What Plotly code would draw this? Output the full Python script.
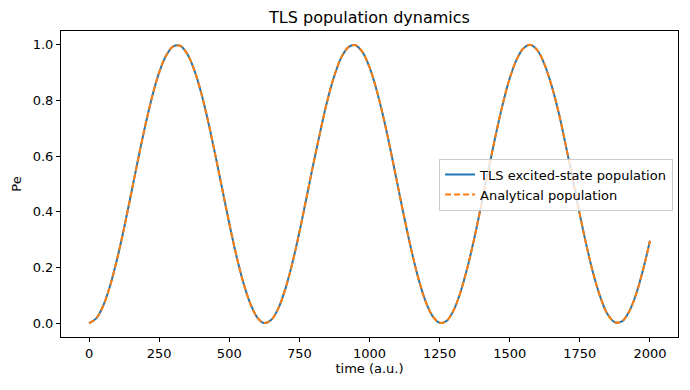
import plotly.graph_objects as go

time_au = [25 * k for k in range(81)]
pe_numeric = [
    0.000, 0.016, 0.061, 0.134, 0.230, 0.342, 0.465, 0.589, 0.708, 0.814,
    0.901, 0.962, 0.995, 0.997, 0.968, 0.910, 0.827, 0.723, 0.605, 0.482,
    0.358, 0.244, 0.146, 0.070, 0.020, 0.000, 0.012, 0.053, 0.123, 0.216,
    0.327, 0.449, 0.573, 0.691, 0.801, 0.890, 0.956, 0.992, 0.999, 0.974,
    0.920, 0.839, 0.738, 0.622, 0.498, 0.374, 0.259, 0.158, 0.078, 0.025,
    0.001, 0.008, 0.046, 0.113, 0.203, 0.311, 0.432, 0.555, 0.676, 0.787,
    0.880, 0.948, 0.989, 1.000, 0.979, 0.927, 0.851, 0.754, 0.638, 0.516,
    0.390, 0.273, 0.170, 0.088, 0.030, 0.003, 0.006, 0.040, 0.102, 0.190,
    0.296,
]
pe_analytical = list(pe_numeric)

x_ticks = [0, 250, 500, 750, 1000, 1250, 1500, 1750, 2000]
y_ticks = [0.0, 0.2, 0.4, 0.6, 0.8, 1.0]

font = "DejaVu Sans"
fig = go.Figure()
fig.add_trace(go.Scatter(
    x=time_au, y=pe_numeric, mode="lines", name="TLS excited-state population",
    line=dict(color="#1f77b4", width=2, shape="spline"),
))
fig.add_trace(go.Scatter(
    x=time_au, y=pe_analytical, mode="lines", name="Analytical population",
    line=dict(color="#ff7f0e", width=2, dash="6px,3px", shape="spline"),
))

axis_common = dict(
    showgrid=False, zeroline=False, showline=True, linecolor="black", linewidth=1,
    mirror=True, ticks="outside", ticklen=4, tickcolor="black", automargin=False,
    tickfont=dict(family=font, size=13, color="black"),
)
# page body has an 8px margin, so the figure is sized/offset to compensate
fig.update_layout(
    width=674, height=374,
    margin=dict(l=53, r=4, t=23, b=45),
    paper_bgcolor="white", plot_bgcolor="white",
    title=dict(text="TLS population dynamics", x=0.5, xanchor="center", xref="paper",
               y=1 - 9 / 374, yanchor="middle", automargin=False,
               font=dict(family=font, size=16, color="black")),
    xaxis=dict(range=[-100, 2100], tickvals=x_ticks,
               ticktext=[str(v) for v in x_ticks],
               title=dict(text="time (a.u.)", font=dict(family=font, size=13, color="black"), standoff=4),
               **axis_common),
    yaxis=dict(range=[-0.05, 1.05], tickvals=y_ticks,
               ticktext=[f"{v:.1f}" for v in y_ticks],
               title=dict(text="Pe", font=dict(family=font, size=13, color="black"), standoff=8),
               **axis_common),
    legend=dict(x=0.992, y=0.498, xanchor="right", yanchor="middle",
                bgcolor="rgba(255,255,255,0.8)", bordercolor="#cccccc", borderwidth=1,
                font=dict(family=font, size=13, color="black"),
                itemwidth=30, tracegroupgap=0),
    showlegend=True,
)
fig.write_html("out.html")
